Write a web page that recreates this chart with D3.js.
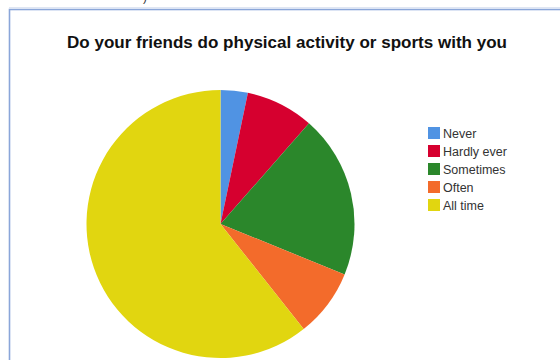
<!DOCTYPE html>
<html>
<head>
<meta charset="utf-8">
<script src="https://cdn.jsdelivr.net/npm/d3@7"></script>
<style>
  html, body { margin: 0; padding: 0; background: #ffffff; }
  svg { display: block; }
</style>
</head>
<body>
<svg id="chart" width="560" height="360"></svg>
<script>
// Survey answers: how often friends join in physical activity or sports
const categories = ["Never", "Hardly ever", "Sometimes", "Often", "All time"];
const counts = [2, 5, 12, 5, 37];
const colors = ["#5093e3", "#d6002f", "#2b872b", "#f36b2b", "#e1d610"];
const title = "Do your friends do physical activity or sports with you";

const svg = d3.select("#chart");
const W = 560, H = 360;

// Frame around the chart panel
svg.append("rect")
  .attr("x", 9.5).attr("y", 9.5)
  .attr("width", W + 20).attr("height", H + 20)
  .attr("fill", "none")
  .attr("stroke", "#8aa6d9")
  .attr("stroke-width", 1.6);
svg.append("line")
  .attr("x1", 9).attr("x2", W).attr("y1", 7.5).attr("y2", 7.5)
  .attr("stroke", "#dfe6f3").attr("stroke-width", 1);

// Fragment of a caption sitting above the panel
svg.append("text")
  .attr("x", 143).attr("y", 1)
  .attr("font-family", "Liberation Sans, Arial, sans-serif")
  .attr("font-size", 12)
  .attr("fill", "#333")
  .text(")");

// Title
svg.append("text")
  .attr("x", 287).attr("y", 48)
  .attr("text-anchor", "middle")
  .attr("font-family", "Liberation Sans, Arial, sans-serif")
  .attr("font-weight", "bold")
  .attr("font-size", 16.5)
  .attr("textLength", 440)
  .attr("lengthAdjust", "spacingAndGlyphs")
  .attr("fill", "#111")
  .text(title);

// Pie
const cx = 220.5, cy = 224, r = 134;
const color = d3.scaleOrdinal().domain(categories).range(colors);
const pie = d3.pie().sort(null).value((d, i) => counts[i]);
const arc = d3.arc().innerRadius(0).outerRadius(r);

svg.append("g")
  .attr("transform", `translate(${cx},${cy})`)
  .selectAll("path")
  .data(pie(categories))
  .join("path")
  .attr("d", arc)
  .attr("fill", d => color(d.data));

// Legend
const legend = svg.append("g").attr("transform", "translate(428,127)");
const rowY = d3.scalePoint().domain(categories).range([0, 72]);
const rows = legend.selectAll("g")
  .data(categories)
  .join("g")
  .attr("transform", d => `translate(0,${rowY(d)})`);
rows.append("rect")
  .attr("width", 12).attr("height", 12)
  .attr("fill", d => color(d));
rows.append("text")
  .attr("x", 15).attr("y", 10.5)
  .attr("font-family", "Liberation Sans, Arial, sans-serif")
  .attr("font-size", 12.5)
  .attr("fill", "#333")
  .text(d => d);
</script>
</body>
</html>
